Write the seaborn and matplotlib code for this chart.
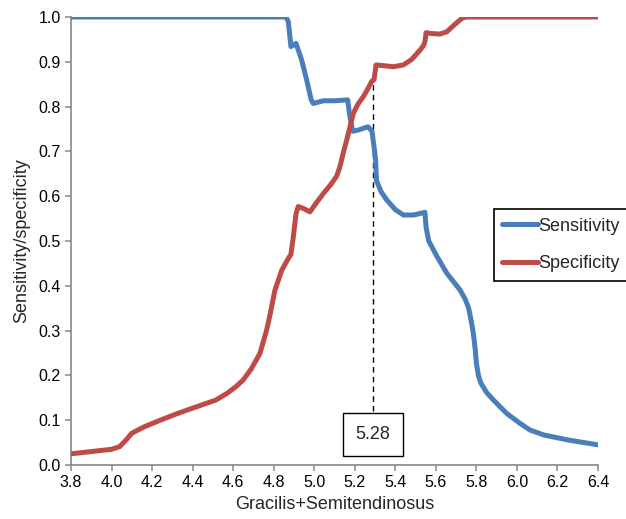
import matplotlib
matplotlib.use("Agg")
import matplotlib.pyplot as plt
import seaborn as sns
import pandas as pd

# ---- data ----
sens_x = [3.8, 4.86, 4.872, 4.885, 4.91, 4.938, 4.963, 4.985, 4.995, 5.045, 5.10, 5.165,
          5.175, 5.19, 5.22, 5.265, 5.285, 5.298, 5.303, 5.307, 5.33, 5.357, 5.40, 5.44,
          5.49, 5.546, 5.552, 5.565, 5.60, 5.654, 5.719, 5.745, 5.762, 5.775, 5.785,
          5.795, 5.80, 5.81, 5.822, 5.85, 5.884, 5.95, 6.015, 6.065, 6.133, 6.25, 6.4]
sens_y = [1.0, 1.0, 0.99, 0.934, 0.941, 0.904, 0.859, 0.815, 0.807, 0.813, 0.813, 0.815,
          0.78, 0.745, 0.748, 0.755, 0.745, 0.70, 0.68, 0.635, 0.61, 0.592, 0.57, 0.558,
          0.558, 0.564, 0.53, 0.50, 0.47, 0.428, 0.391, 0.37, 0.35, 0.32, 0.294,
          0.255, 0.227, 0.20, 0.183, 0.162, 0.145, 0.115, 0.093, 0.078, 0.067, 0.056, 0.045]

spec_x = [3.8, 4.0, 4.04, 4.07, 4.10, 4.16, 4.24, 4.32, 4.40, 4.515, 4.57, 4.614, 4.65,
          4.69, 4.732, 4.765, 4.78, 4.806, 4.84, 4.872, 4.885, 4.897, 4.91, 4.921, 4.95,
          4.979, 5.01, 5.045, 5.08, 5.11, 5.127, 5.145, 5.16, 5.193, 5.215, 5.242, 5.265,
          5.283, 5.295, 5.305, 5.35, 5.39, 5.44, 5.48, 5.522, 5.54, 5.546, 5.552, 5.58,
          5.62, 5.654, 5.69, 5.728, 5.75, 6.4]
spec_y = [0.025, 0.035, 0.041, 0.055, 0.071, 0.085, 0.10, 0.114, 0.127, 0.145, 0.16, 0.175,
          0.19, 0.215, 0.249, 0.301, 0.331, 0.39, 0.435, 0.461, 0.47, 0.51, 0.56, 0.577,
          0.572, 0.565, 0.585, 0.606, 0.625, 0.644, 0.666, 0.70, 0.725, 0.785, 0.805,
          0.822, 0.84, 0.856, 0.86, 0.893, 0.891, 0.889, 0.893, 0.905, 0.926, 0.937,
          0.945, 0.965, 0.963, 0.962, 0.967, 0.982, 0.997, 1.0, 1.0]

series_names = ["Sensitivity", "Specificity"]
series_colors = ["#4A7EBB", "#BE4B48"]

cutoff_x = 5.29
cutoff_top = 0.858
cutoff_label = "5.28"
label_y = 0.068
label_box_top = 0.121

x_ticks = [3.8, 4.0, 4.2, 4.4, 4.6, 4.8, 5.0, 5.2, 5.4, 5.6, 5.8, 6.0, 6.2, 6.4]
y_ticks = [0.0, 0.1, 0.2, 0.3, 0.4, 0.5, 0.6, 0.7, 0.8, 0.9, 1.0]

df = pd.concat([
    pd.DataFrame({"x": sens_x, "y": sens_y, "Series": series_names[0]}),
    pd.DataFrame({"x": spec_x, "y": spec_y, "Series": series_names[1]}),
], ignore_index=True)

sns.set_theme(style="white")
plt.rcParams["font.family"] = ["Liberation Sans", "DejaVu Sans"]

fig = plt.figure(figsize=(6.26, 5.19), dpi=100)
ax = fig.add_axes([71/626, 1-465/519, (598-71)/626, (465-17)/519])

sns.lineplot(data=df, x="x", y="y", hue="Series", palette=series_colors,
             sort=False, linewidth=3.6, ax=ax, legend=True,
             solid_joinstyle="round", solid_capstyle="round", zorder=3)

ax.set_xlim(3.8, 6.4)
ax.set_ylim(0, 1.0)
ax.set_xticks(x_ticks)
ax.set_xticklabels([f"{v:.1f}" for v in x_ticks])
ax.set_yticks(y_ticks)
ax.set_yticklabels([f"{v:.1f}" for v in y_ticks])
ax.tick_params(axis="both", labelsize=11.5, colors="#868686", length=4, width=1.1,
               direction="out", labelcolor="black", bottom=True, left=True)
for s in ["top", "right"]:
    ax.spines[s].set_visible(False)
for s in ["left", "bottom"]:
    ax.spines[s].set_color("#868686")
    ax.spines[s].set_linewidth(1.2)
ax.set_xlabel("Gracilis+Semitendinosus", fontsize=13, labelpad=4)
ax.set_ylabel("Sensitivity/specificity", fontsize=13, labelpad=6)

# cutoff
ax.vlines(cutoff_x, label_box_top, cutoff_top, colors="black", linestyles=(0, (4, 3)),
          linewidth=1.0, zorder=2)
ax.text(cutoff_x, label_y, cutoff_label, ha="center", va="center", fontsize=13,
        bbox=dict(boxstyle="square,pad=0.7", facecolor="white", edgecolor="black",
                  linewidth=1.0), zorder=4)

handles, labels = ax.get_legend_handles_labels()
leg = ax.legend(handles, labels, loc="center left",
                bbox_to_anchor=(494/626, 1-245/519), bbox_transform=fig.transFigure,
                fontsize=13, frameon=True, fancybox=False, framealpha=1,
                edgecolor="black", handlelength=2.0, handletextpad=0.0,
                labelspacing=1.15, borderpad=0.45, borderaxespad=0, title=None)
leg.get_frame().set_linewidth(1.2)
for line in leg.get_lines():
    line.set_linewidth(3.6)

fig.savefig("out.png", dpi=100)
